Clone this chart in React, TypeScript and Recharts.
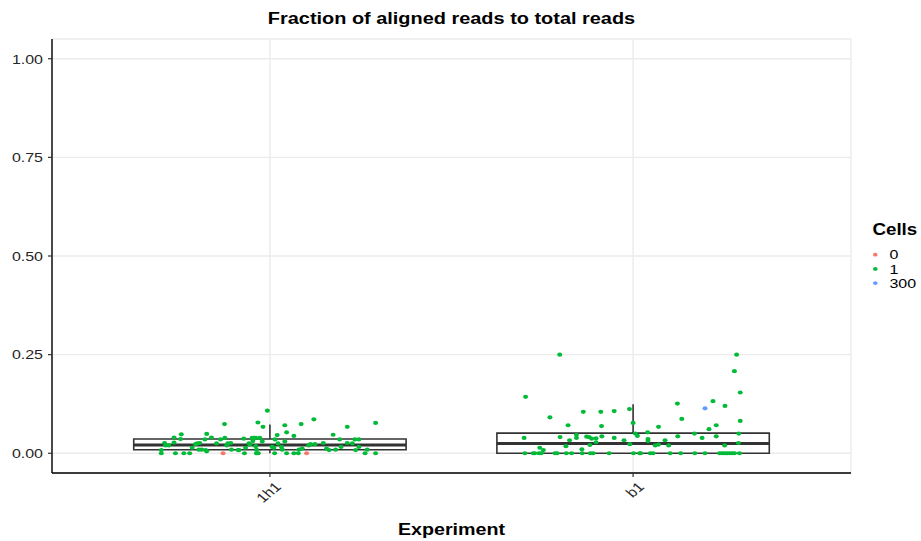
import React from 'react';
import { ComposedChart, Scatter, XAxis, YAxis, CartesianGrid, ReferenceArea, ReferenceLine } from 'recharts';

const experiments = ['1h1', 'b1'];
const yTicks = [0, 0.25, 0.5, 0.75, 1];

// boxplot stats per experiment
const boxLower = [0, 0];
const boxQ1 = [0.009, 0];
const boxMedian = [0.021, 0.025];
const boxQ3 = [0.036, 0.051];
const boxUpper = [0.073, 0.124];

// jittered points: [offset from category, fraction]
const h1Cells0 = [[-0.129, 0], [0.101, 0]];
const h1Cells1 = [
  [-0.299, 0.008], [-0.299, 0], [-0.29, 0.026], [-0.287, 0.02], [-0.278, 0.02], [-0.264, 0.04],
  [-0.264, 0.027], [-0.26, 0], [-0.244, 0.048], [-0.246, 0.036], [-0.237, 0], [-0.221, 0],
  [-0.214, 0.014], [-0.205, 0.023], [-0.2, 0.025], [-0.193, 0.026], [-0.196, 0.009], [-0.188, 0.009],
  [-0.179, 0.035], [-0.174, 0.049], [-0.177, 0.008], [-0.174, 0.005], [-0.161, 0.04], [-0.147, 0.025],
  [-0.136, 0.035], [-0.125, 0.074], [-0.124, 0.039], [-0.119, 0.02], [-0.116, 0.025], [-0.108, 0.026],
  [-0.106, 0.009], [-0.088, 0.008], [-0.085, 0.008], [-0.072, 0.037], [-0.07, 0], [-0.067, 0.014],
  [-0.058, 0.025], [-0.055, 0.022], [-0.049, 0.039], [-0.044, 0.039], [-0.039, 0.039], [-0.047, 0.031],
  [-0.039, 0.018], [-0.037, 0.009], [-0.037, 0], [-0.032, 0], [-0.033, 0.078], [-0.028, 0.039],
  [-0.021, 0.03], [-0.019, 0.067], [-0.007, 0.108], [0.006, 0.016], [0.011, 0.014], [0.013, 0],
  [0.014, 0.035], [0.02, 0.046], [0.022, 0.025], [0.032, 0.016], [0.034, 0.009], [0.041, 0.071],
  [0.041, 0.03], [0.046, 0.053], [0.046, 0], [0.066, 0.044], [0.066, 0], [0.078, 0],
  [0.08, 0.009], [0.086, 0.074], [0.089, 0.012], [0.107, 0.02], [0.112, 0.023], [0.121, 0.086],
  [0.124, 0.023], [0.147, 0.026], [0.156, 0.012], [0.163, 0.008], [0.174, 0.047], [0.181, 0.009],
  [0.192, 0.035], [0.196, 0.016], [0.213, 0.067], [0.213, 0.026], [0.227, 0.025], [0.234, 0.035],
  [0.245, 0.035], [0.236, 0.008], [0.245, 0.016], [0.262, 0], [0.268, 0.009], [0.291, 0.077],
  [0.291, 0],
];
const b1Cells1 = [
  [-0.202, 0.25], [-0.296, 0.143], [-0.229, 0.091], [-0.179, 0.071], [-0.137, 0.105], [-0.089, 0.105],
  [-0.052, 0.107], [-0.01, 0.112], [-0.087, 0.069], [0, 0.077], [0.07, 0.067], [0.122, 0.126],
  [0.134, 0.087], [0.22, 0.132], [0.253, 0.12], [0.285, 0.25], [0.279, 0.208], [0.295, 0.154],
  [0.229, 0.071], [0.209, 0.061], [0.295, 0.082], [0.291, 0.05], [0.29, 0.026], [0.252, 0.02],
  [0.229, 0.043], [0.19, 0.039], [0.169, 0.05], [0.123, 0.043], [0.088, 0.033], [0.098, 0.02],
  [0.07, 0.022], [0.061, 0.02], [0.04, 0.053], [0.041, 0.036], [0.041, 0.031], [0.012, 0.044],
  [0.006, 0.05], [-0.009, 0.023], [-0.025, 0.033], [-0.052, 0.039], [-0.086, 0.043], [-0.102, 0.038],
  [-0.102, 0.028], [-0.114, 0.037], [-0.121, 0.041], [-0.128, 0.042], [-0.119, 0.021], [-0.156, 0.047],
  [-0.156, 0.039], [-0.175, 0.033], [-0.185, 0.018], [-0.201, 0.041], [-0.141, 0.01], [-0.247, 0.008],
  [-0.257, 0.014], [-0.3, 0.039],
  [-0.298, 0], [-0.275, 0], [-0.271, 0], [-0.259, 0], [-0.253, 0], [-0.215, 0], [-0.209, 0],
  [-0.184, 0], [-0.169, 0], [-0.14, 0], [-0.118, 0], [-0.11, 0], [-0.066, 0], [0.001, 0],
  [0.018, 0], [0.021, 0], [0.047, 0], [0.055, 0], [0.102, 0], [0.131, 0], [0.17, 0],
  [0.198, 0], [0.238, 0], [0.245, 0], [0.252, 0], [0.259, 0], [0.266, 0], [0.273, 0],
  [0.279, 0], [0.293, 0],
];
const b1Cells300 = [[0.198, 0.114]];

const cellLevels = ['0', '1', '300'];
const cellColors = ['#F8766D', '#00BA38', '#619CFF'];

const toPoints = (rows: number[][], group: number) => rows.map(([dx, y]) => ({ x: group + dx, y }));

const cells0Data = toPoints(h1Cells0, 1);
const cells1Data = [...toPoints(h1Cells1, 1), ...toPoints(b1Cells1, 2)];
const cells300Data = toPoints(b1Cells300, 2);

const FONT = "'Liberation Sans', Arial, Helvetica, sans-serif";
const SX = 1.2; // picture is stretched sideways a little

const Dot = (color: string) => (props: any) => (
  <ellipse cx={props.cx} cy={props.cy} rx={2.5} ry={2.1} fill={color} />
);

const YTick = (props: any) => {
  const { x, y, payload } = props;
  return (
    <g transform={`translate(${x},${y}) scale(${SX},1)`}>
      <text x={0} y={0} dy="0.36em" textAnchor="end" fontSize={13.3} fill="#262626" fontFamily={FONT}>
        {Number(payload.value).toFixed(2)}
      </text>
    </g>
  );
};

const XTick = (props: any) => {
  const { x, payload } = props;
  return (
    <g transform={`translate(${x + 4},${481}) scale(${SX},1) rotate(-45)`}>
      <text x={0} y={0} dy="0.71em" textAnchor="end" fontSize={13.3} fill="#262626" fontFamily={FONT}>
        {experiments[payload.value - 1]}
      </text>
    </g>
  );
};

export default function App() {
  return (
    <div style={{ position: 'relative', width: 921, height: 541, background: '#fff' }}>
      <style>{'body{margin:0}'}</style>
      <ComposedChart width={921} height={541} margin={{ top: 39, right: 70, bottom: 0, left: 0 }}>
        <CartesianGrid stroke="#ebebeb" strokeWidth={1.4} />
        <XAxis
          type="number"
          dataKey="x"
          domain={[0.4, 2.6]}
          ticks={[1, 2]}
          allowDataOverflow
          height={68}
          tick={<XTick />}
          tickSize={4}
          axisLine={{ stroke: '#000', strokeWidth: 1.4 }}
          tickLine={{ stroke: '#333', strokeWidth: 1.2 }}
        />
        <YAxis
          type="number"
          dataKey="y"
          domain={[-0.05, 1.05]}
          ticks={yTicks}
          allowDataOverflow
          width={52}
          tick={<YTick />}
          tickSize={4}
          tickMargin={5}
          axisLine={{ stroke: '#000', strokeWidth: 1.4 }}
          tickLine={{ stroke: '#333', strokeWidth: 1.2 }}
        />
        {experiments.map((name, i) => (
          <ReferenceLine
            key={`wu-${name}`}
            segment={[{ x: i + 1, y: boxQ3[i] }, { x: i + 1, y: boxUpper[i] }]}
            stroke="#333"
            strokeWidth={1.6}
          />
        ))}
        {experiments.map((name, i) => (
          <ReferenceLine
            key={`wl-${name}`}
            segment={[{ x: i + 1, y: boxLower[i] }, { x: i + 1, y: boxQ1[i] }]}
            stroke="#333"
            strokeWidth={1.6}
          />
        ))}
        {experiments.map((name, i) => (
          <ReferenceArea
            key={`box-${name}`}
            x1={i + 1 - 0.375}
            x2={i + 1 + 0.375}
            y1={boxQ1[i]}
            y2={boxQ3[i]}
            fill="#fff"
            fillOpacity={1}
            stroke="#333"
            strokeWidth={1.6}
          />
        ))}
        {experiments.map((name, i) => (
          <ReferenceLine
            key={`med-${name}`}
            segment={[{ x: i + 1 - 0.375, y: boxMedian[i] }, { x: i + 1 + 0.375, y: boxMedian[i] }]}
            stroke="#333"
            strokeWidth={3}
          />
        ))}
        <Scatter data={cells0Data} dataKey="y" shape={Dot(cellColors[0])} isAnimationActive={false} />
        <Scatter data={cells1Data} dataKey="y" shape={Dot(cellColors[1])} isAnimationActive={false} />
        <Scatter data={cells300Data} dataKey="y" shape={Dot(cellColors[2])} isAnimationActive={false} />
      </ComposedChart>
      <svg width={921} height={541} style={{ position: 'absolute', left: 0, top: 0, pointerEvents: 'none' }}>
        <text transform={`translate(451.5,24) scale(${SX},1)`} textAnchor="middle" fontSize={16.6} fontWeight="bold" fontFamily={FONT} fill="#000">
          Fraction of aligned reads to total reads
        </text>
        <text transform={`translate(451.5,535) scale(${SX},1)`} textAnchor="middle" fontSize={16.4} fontWeight="bold" fontFamily={FONT} fill="#000">
          Experiment
        </text>
        <text transform={`translate(872.5,235) scale(${SX},1)`} textAnchor="start" fontSize={15.6} fontWeight="bold" fontFamily={FONT} fill="#000">
          Cells
        </text>
        {cellLevels.map((lvl, i) => (
          <g key={lvl}>
            <ellipse cx={875.3} cy={254.7 + i * 14.2} rx={2.3} ry={1.9} fill={cellColors[i]} />
            <text transform={`translate(889.5,${254.7 + i * 14.2}) scale(${SX},1)`} dy="0.36em" fontSize={13.3} fontFamily={FONT} fill="#000">
              {lvl}
            </text>
          </g>
        ))}
      </svg>
    </div>
  );
}
